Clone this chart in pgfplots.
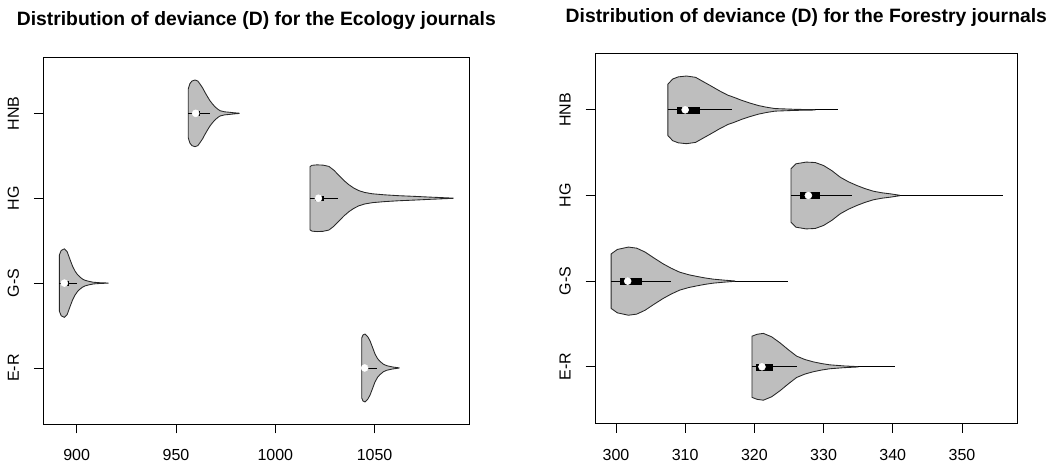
\documentclass[border=0pt]{standalone}
\usepackage{pgfplots}
\pgfplotsset{compat=1.18}
\usepackage{fontspec}
\setmainfont{Liberation Sans}
\definecolor{violin}{RGB}{190,190,190}
\definecolor{vline}{RGB}{40,40,40}
\pgfplotsset{
  vstyle/.style={fill=violin, draw=vline, line width=0.65pt, line join=round},
  wstyle/.style={black, line width=0.6pt},
  bstyle/.style={fill=black, draw=black, line width=0.3pt},
  mstyle/.style={only marks, mark=*, mark size=2.6pt, mark options={fill=white, draw=white}},
  mystyle/.style={scale only axis, anchor=south west,
    ymin=0.34, ymax=4.66, ytick={1,2,3,4}, yticklabels={E-R,G-S,HG,HNB},
    tick align=outside, tick pos=left, major tick length=7pt,
    axis line style={line width=0.6pt},
    tick style={black, line width=0.6pt},
    ticklabel style={font=\fontsize{12}{14}\selectfont},
    /pgf/number format/assume math mode=true,
    /pgf/number format/1000 sep={},
    xticklabel style={anchor=center, yshift=-16.5pt},
    yticklabel style={xshift=-15.5pt, rotate=90, anchor=center},
    title style={font=\fontsize{14.5}{17}\selectfont\bfseries, anchor=center, at={(0.5,1)}},
  }
}
\begin{document}
\begin{tikzpicture}
\path[use as bounding box] (0pt,0pt) rectangle (795.75pt,349.5pt);
% ---------------- Ecology ----------------
\begin{axis}[mystyle, at={(32.5pt,31.5pt)}, width=319.5pt, height=275pt,
  xmin=883.2, xmax=1097.7, xtick={900,950,1000,1050},
  title={Distribution of deviance (D) for the Ecology journals},
  title style={yshift=21.5pt}]
% HNB
\addplot[vstyle] coordinates {(956.2,4.29)(957,4.35)(958,4.38)(959.6,4.393)(961,4.38)(962.1,4.345)(963.4,4.3)(964.6,4.247)(965.9,4.195)(967.1,4.149)(968.4,4.11)(969.6,4.078)(971,4.05)(972.2,4.031)(974.5,4.018)(977.2,4.012)(979.5,4.006)(981.8,4.002)
(981.8,3.998)(979.5,3.994)(977.2,3.988)(974.5,3.982)(972.2,3.969)(971,3.95)(969.6,3.922)(968.4,3.89)(967.1,3.851)(965.9,3.805)(964.6,3.753)(963.4,3.7)(962.1,3.655)(961,3.62)(959.6,3.607)(958,3.62)(957,3.65)(956.2,3.71)} -- cycle;
% HG
\addplot[vstyle] coordinates {(1017.5,3.373)(1018.5,3.388)(1021,3.393)(1024,3.39)(1027,3.375)(1029.5,3.33)(1032,3.27)(1034.5,3.21)(1037,3.16)(1039.5,3.12)(1042,3.09)(1045,3.068)(1049,3.052)(1055,3.04)(1062,3.03)(1070,3.022)(1078,3.013)(1084,3.007)(1089.6,3.001)
(1089.6,2.999)(1084,2.993)(1078,2.987)(1070,2.978)(1062,2.97)(1055,2.96)(1049,2.948)(1045,2.932)(1042,2.91)(1039.5,2.88)(1037,2.84)(1034.5,2.79)(1032,2.73)(1029.5,2.67)(1027,2.625)(1024,2.61)(1021,2.607)(1018.5,2.612)(1017.5,2.627)} -- cycle;
% G-S
\addplot[vstyle] coordinates {(891.3,2.333)(892.2,2.385)(893.8,2.404)(895.2,2.37)(896.6,2.28)(897.9,2.2)(899.2,2.14)(900.4,2.1)(901.7,2.07)(903,2.047)(904.2,2.033)(906.3,2.02)(908.4,2.01)(912,2.004)(915.9,2.001)
(915.9,1.999)(912,1.996)(908.4,1.99)(906.3,1.98)(904.2,1.967)(903,1.953)(901.7,1.93)(900.4,1.9)(899.2,1.86)(897.9,1.8)(896.6,1.72)(895.2,1.63)(893.8,1.596)(892.2,1.615)(891.3,1.667)} -- cycle;
% E-R
\addplot[vstyle] coordinates {(1043.5,1.353)(1044.2,1.39)(1045.2,1.4)(1046.5,1.37)(1047.7,1.32)(1049,1.24)(1050.2,1.165)(1051.5,1.11)(1052.7,1.078)(1054.4,1.045)(1056.1,1.027)(1059,1.012)(1062.4,1.001)
(1062.4,0.999)(1059,0.988)(1056.1,0.973)(1054.4,0.955)(1052.7,0.922)(1051.5,0.89)(1050.2,0.835)(1049,0.76)(1047.7,0.68)(1046.5,0.63)(1045.2,0.6)(1044.2,0.61)(1043.5,0.647)} -- cycle;
% whiskers
\addplot[wstyle] coordinates {(956.2,4)(967.1,4)};
\addplot[wstyle] coordinates {(1017.5,3)(1031.7,3)};
\addplot[wstyle] coordinates {(891.3,2)(900,2)};
\addplot[wstyle] coordinates {(1043.5,1)(1051,1)};
% boxes
\addplot[bstyle] coordinates {(958.5,3.98)(961.5,3.98)(961.5,4.02)(958.5,4.02)} -- cycle;
\addplot[bstyle] coordinates {(1020,2.98)(1024,2.98)(1024,3.02)(1020,3.02)} -- cycle;
\addplot[bstyle] coordinates {(893,1.98)(895.5,1.98)(895.5,2.02)(893,2.02)} -- cycle;
\addplot[bstyle] coordinates {(1044,0.98)(1046.5,0.98)(1046.5,1.02)(1044,1.02)} -- cycle;
% medians
\addplot[mstyle] coordinates {(959.9,4)(1021.7,3)(893.8,2)(1045,1)};
\end{axis}
% ---------------- Forestry ----------------
\begin{axis}[mystyle, at={(446.25pt,32pt)}, width=317pt, height=277.5pt,
  xmin=296.97, xmax=358.05, xtick={300,310,320,330,340,350},
  title={Distribution of deviance (D) for the Forestry journals},
  title style={yshift=21pt}]
% HNB
\addplot[vstyle] coordinates {(307.5,4.3)(308.2,4.36)(309,4.385)(310.2,4.395)(311.5,4.38)(312.6,4.33)(313.6,4.285)(315,4.22)(316.2,4.17)(317,4.148)(318.2,4.11)(319.4,4.078)(320.6,4.05)(321.8,4.03)(323,4.015)(326,4.006)(328.8,4.002)
(328.8,3.998)(326,3.994)(323,3.985)(321.8,3.97)(320.6,3.95)(319.4,3.922)(318.2,3.89)(317,3.852)(316.2,3.83)(315,3.78)(313.6,3.715)(312.6,3.67)(311.5,3.62)(310.2,3.605)(309,3.615)(308.2,3.64)(307.5,3.7)} -- cycle;
% HG
\addplot[vstyle] coordinates {(325.3,3.312)(326,3.37)(327.5,3.39)(328.8,3.385)(330,3.35)(331.2,3.29)(332.4,3.214)(333.6,3.16)(334.8,3.117)(336,3.08)(337.2,3.05)(338.4,3.032)(339.6,3.02)(341,3.003)
(341,2.997)(339.6,2.98)(338.4,2.968)(337.2,2.95)(336,2.92)(334.8,2.883)(333.6,2.84)(332.4,2.786)(331.2,2.71)(330,2.65)(328.8,2.615)(327.5,2.61)(326,2.63)(325.3,2.688)} -- cycle;
% G-S
\addplot[vstyle] coordinates {(299.3,2.318)(300.2,2.37)(301.8,2.398)(303,2.385)(304.2,2.34)(305.5,2.27)(306.8,2.203)(308,2.15)(309.2,2.105)(310.5,2.075)(311.7,2.055)(312.9,2.037)(314.1,2.023)(315.6,2.012)(317.2,2.002)
(317.2,1.998)(315.6,1.988)(314.1,1.977)(312.9,1.963)(311.7,1.945)(310.5,1.925)(309.2,1.895)(308,1.85)(306.8,1.797)(305.5,1.73)(304.2,1.66)(303,1.615)(301.8,1.602)(300.2,1.63)(299.3,1.682)} -- cycle;
% E-R
\addplot[vstyle] coordinates {(319.65,1.357)(320.4,1.38)(321.3,1.39)(322.5,1.35)(323.7,1.28)(324.9,1.2)(326.1,1.125)(327.3,1.085)(328.5,1.058)(329.7,1.038)(330.9,1.023)(333,1.01)(335,1.002)
(335,0.998)(333,0.99)(330.9,0.977)(329.7,0.962)(328.5,0.942)(327.3,0.915)(326.1,0.875)(324.9,0.8)(323.7,0.72)(322.5,0.65)(321.3,0.61)(320.4,0.62)(319.65,0.643)} -- cycle;
% tails
\addplot[wstyle] coordinates {(328.8,4)(332.1,4)};
\addplot[wstyle] coordinates {(341,3)(355.9,3)};
\addplot[wstyle] coordinates {(317.2,2)(324.9,2)};
\addplot[wstyle] coordinates {(335,1)(340.3,1)};
% whiskers
\addplot[wstyle] coordinates {(307.5,4)(316.7,4)};
\addplot[wstyle] coordinates {(325.3,3)(334.1,3)};
\addplot[wstyle] coordinates {(299.3,2)(307.9,2)};
\addplot[wstyle] coordinates {(319.65,1)(326.1,1)};
% boxes
\addplot[bstyle] coordinates {(308.8,3.965)(312,3.965)(312,4.035)(308.8,4.035)} -- cycle;
\addplot[bstyle] coordinates {(326.6,2.965)(329.3,2.965)(329.3,3.035)(326.6,3.035)} -- cycle;
\addplot[bstyle] coordinates {(300.6,1.965)(303.6,1.965)(303.6,2.035)(300.6,2.035)} -- cycle;
\addplot[bstyle] coordinates {(320.2,0.965)(322.6,0.965)(322.6,1.035)(320.2,1.035)} -- cycle;
% medians
\addplot[mstyle] coordinates {(310,4)(327.8,3)(301.7,2)(321.1,1)};
\end{axis}
\end{tikzpicture}
\end{document}
